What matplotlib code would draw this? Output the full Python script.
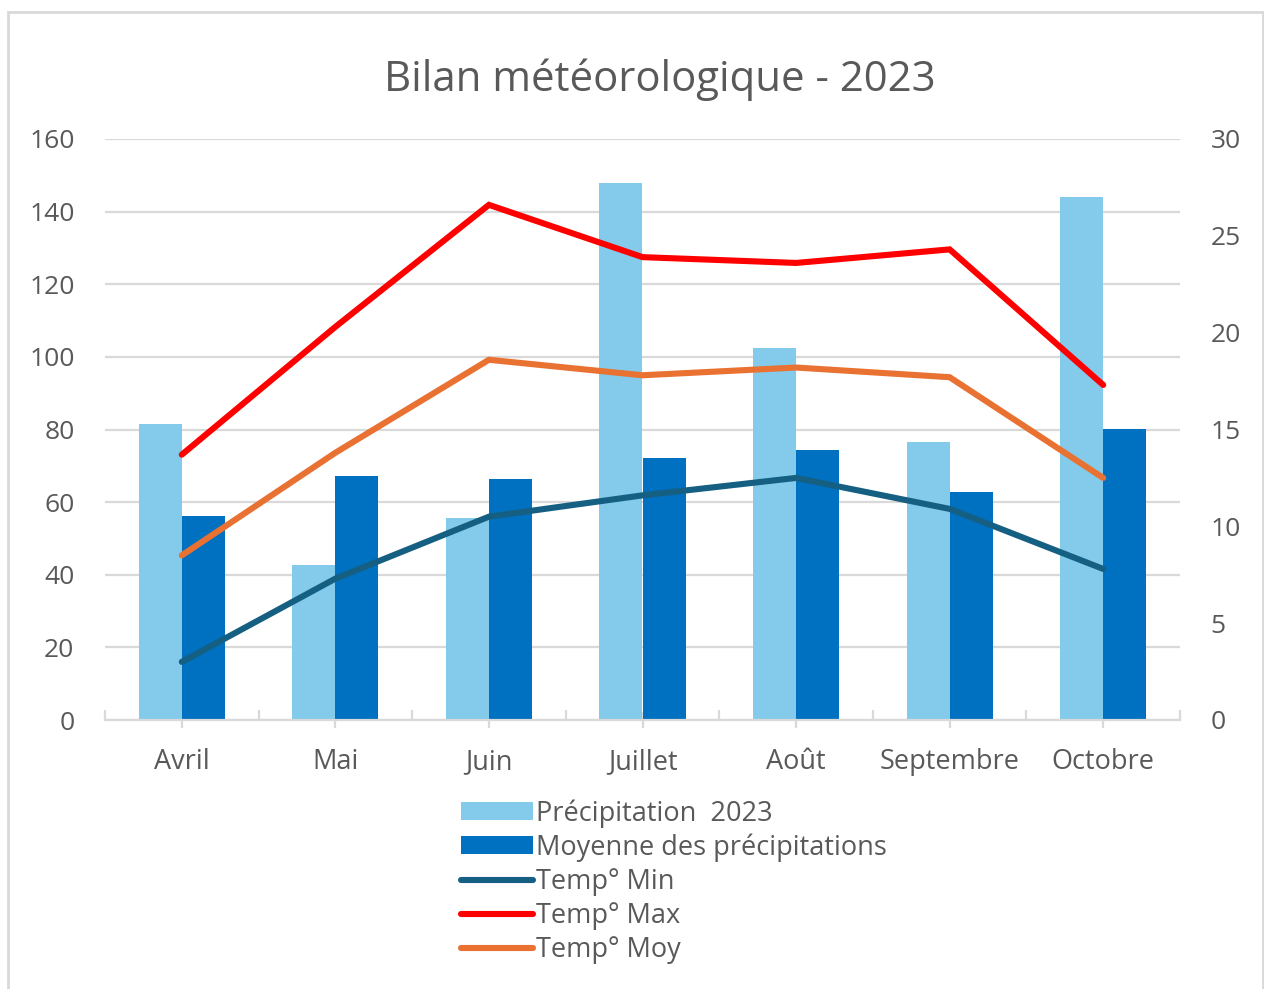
import matplotlib
matplotlib.use("Agg")
import matplotlib.pyplot as plt
import numpy as np
from matplotlib.patches import Rectangle

months = ["Avril", "Mai", "Juin", "Juillet", "Août", "Septembre", "Octobre"]
precip_2023 = [81.5, 42.7, 55.6, 147.9, 102.5, 76.6, 144.0]
precip_moy = [56.2, 67.2, 66.4, 72.2, 74.4, 62.8, 80.1]
temp_min = [3.0, 7.3, 10.5, 11.6, 12.5, 10.9, 7.8]
temp_max = [13.7, 20.3, 26.6, 23.9, 23.6, 24.3, 17.3]
temp_moy = [8.5, 13.8, 18.6, 17.8, 18.2, 17.7, 12.5]

plt.rcParams['font.family'] = ['Open Sans', 'DejaVu Sans']
TXT = '#595959'
GRID = '#d9d9d9'

W, H = 1264, 989
fig = plt.figure(figsize=(W / 100, H / 100), dpi=100)
ax = fig.add_axes([105 / W, 1 - 720 / H, (1180 - 105) / W, (720 - 139) / H])
ax2 = ax.twinx()

x = np.arange(len(months))
bw = 0.28
b1 = ax.bar(x - bw / 2, precip_2023, bw, color='#83CAEB', label='Précipitation  2023', zorder=2)
b2 = ax.bar(x + bw / 2, precip_moy, bw, color='#0070C0', label='Moyenne des précipitations', zorder=2)

ax.set_xlim(-0.5, len(months) - 0.5)
ax.set_ylim(0, 160)
ax.set_yticks(np.arange(0, 161, 20))
ax.yaxis.grid(True, color=GRID, lw=1.6, zorder=0)
ax.set_axisbelow(True)
for s in ['left', 'right', 'top']:
    ax.spines[s].set_visible(False)
ax.spines['bottom'].set_color(GRID)
ax.spines['bottom'].set_linewidth(1.6)
ax.set_xticks(x)
ax.set_xticklabels(months)
ax.set_xticks(np.arange(-0.5, len(months), 1), minor=True)
ax.tick_params(axis='x', which='major', direction='inout', length=11, width=1.6, color=GRID,
               labelsize=19.5, labelcolor=TXT, pad=15)
ax.tick_params(axis='x', which='minor', direction='in', length=7, width=1.6, color=GRID)
ax.tick_params(axis='y', length=0, labelsize=19, labelcolor=TXT, pad=22)

lkw = dict(lw=4.4, solid_capstyle='round', solid_joinstyle='miter')
l1, = ax2.plot(x, temp_min, color='#156082', label='Temp° Min', **lkw)
l2, = ax2.plot(x, temp_max, color='#FF0000', label='Temp° Max', **lkw)
l3, = ax2.plot(x, temp_moy, color='#E97132', label='Temp° Moy', **lkw)
ax2.set_ylim(0, 30)
ax2.set_yticks(np.arange(0, 31, 5))
for s in ['left', 'right', 'top', 'bottom']:
    ax2.spines[s].set_visible(False)
ax2.tick_params(axis='y', length=0, labelsize=19, labelcolor=TXT, pad=22)

fig.text(0.522, 1 - 80 / H, "Bilan météorologique - 2023", ha='center', va='center',
         fontsize=30.2, color=TXT)

leg = fig.legend(handles=[b1, b2, l1, l2, l3], loc='upper left',
                 bbox_to_anchor=(461 / W, 1 - 799 / H), frameon=False, fontsize=19.5,
                 labelcolor=TXT, handlelength=2.65, handleheight=0.65, handletextpad=0.12,
                 labelspacing=0.22, borderpad=0, borderaxespad=0)

fig.patches.append(Rectangle((8 / W, -0.01), (1263 - 8) / W, 1 - 12 / H + 0.01,
                             transform=fig.transFigure, fill=False, edgecolor=GRID, lw=2))

fig.savefig('out.png', dpi=100)
